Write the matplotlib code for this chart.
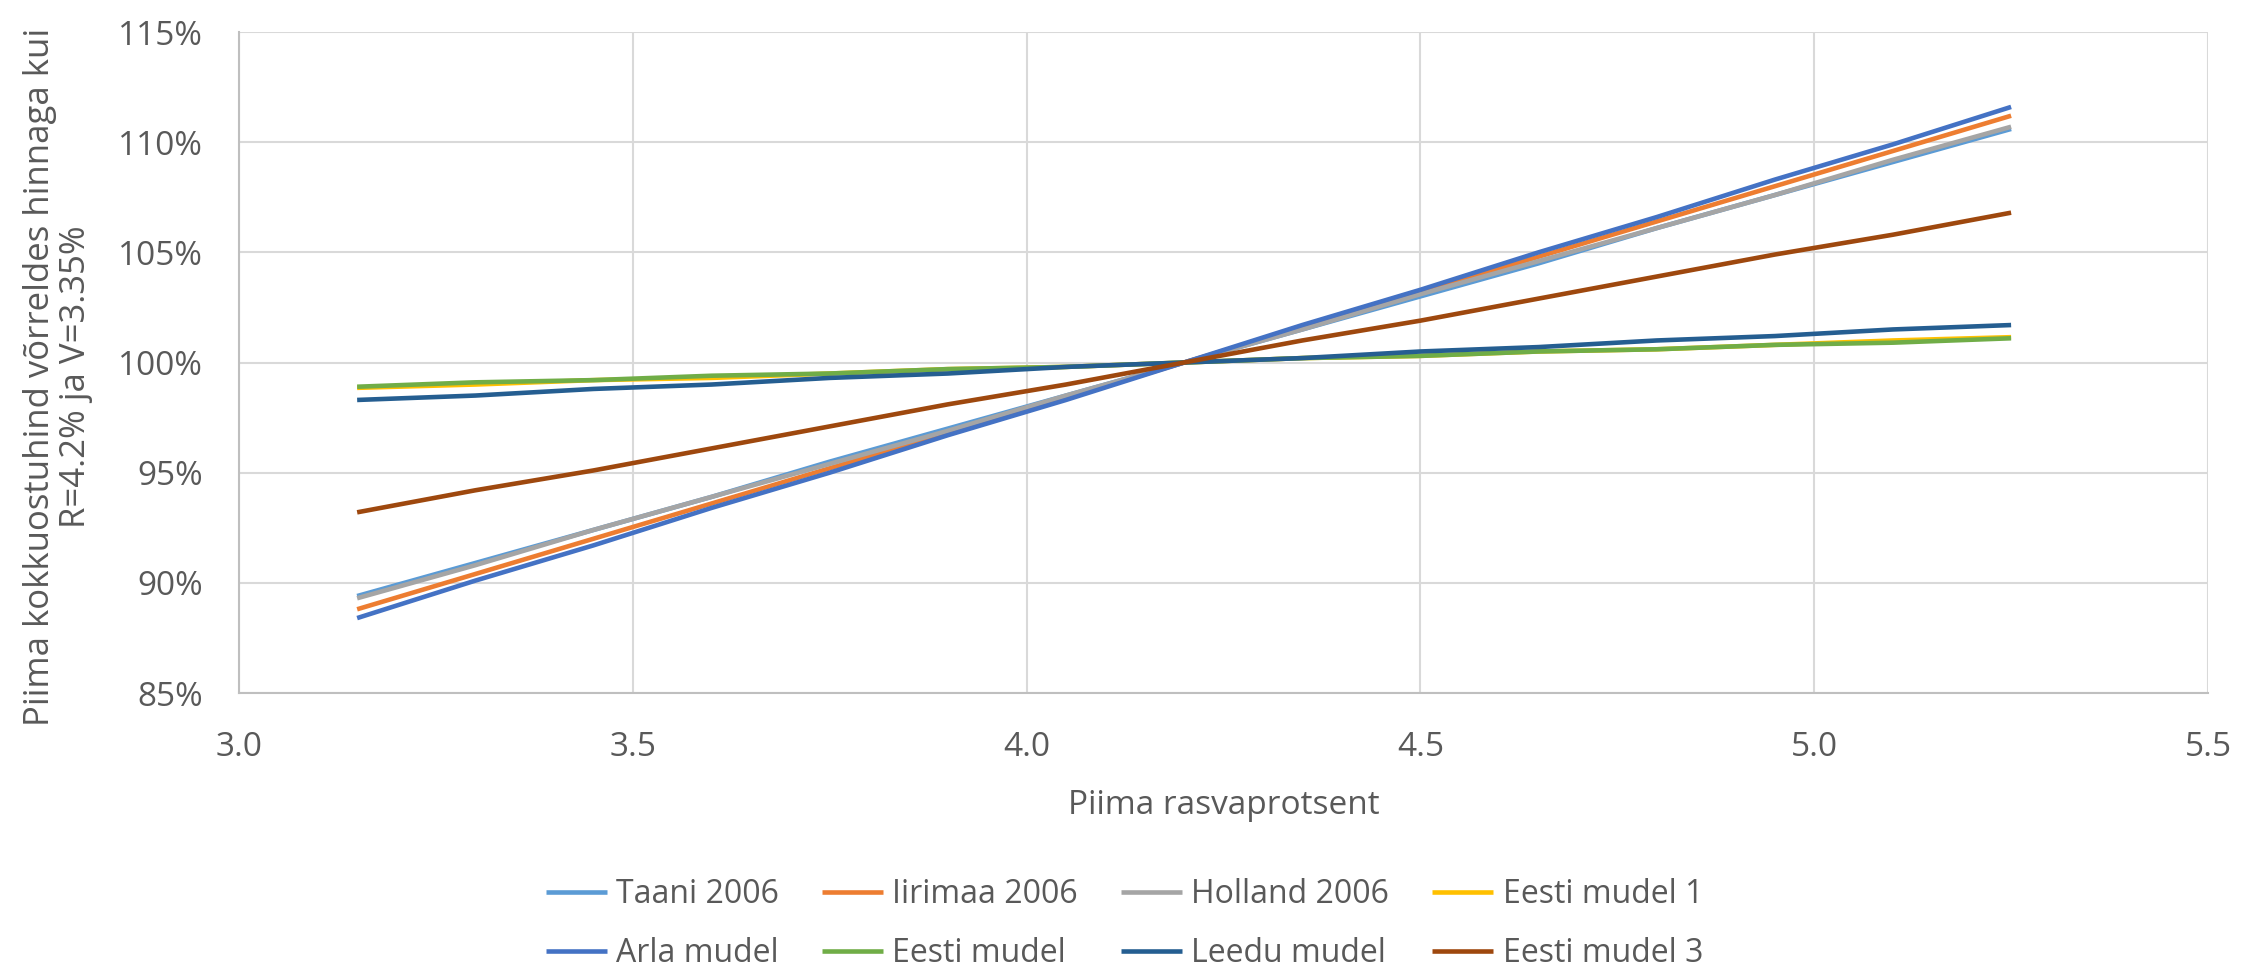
import matplotlib
matplotlib.use("Agg")
import matplotlib.pyplot as plt
from matplotlib.ticker import FuncFormatter, MultipleLocator

fat = [3.15, 3.30, 3.45, 3.60, 3.75, 3.90, 4.05, 4.20, 4.35, 4.50, 4.65, 4.80, 4.95, 5.10, 5.25]

taani_2006 = [89.4, 90.9, 92.4, 93.9, 95.5, 97.0, 98.5, 100.0, 101.5, 103.0, 104.5, 106.1, 107.6, 109.1, 110.6]
iirimaa_2006 = [88.8, 90.4, 92.0, 93.6, 95.2, 96.8, 98.4, 100.0, 101.6, 103.2, 104.8, 106.4, 108.0, 109.6, 111.2]
holland_2006 = [89.3, 90.8, 92.4, 93.9, 95.4, 96.9, 98.5, 100.0, 101.5, 103.1, 104.6, 106.1, 107.6, 109.2, 110.7]
eesti_mudel_1 = [98.85, 99.0, 99.2, 99.3, 99.5, 99.7, 99.8, 100.0, 100.2, 100.3, 100.5, 100.6, 100.8, 101.0, 101.15]
arla_mudel = [88.4, 90.1, 91.7, 93.4, 95.0, 96.7, 98.3, 100.0, 101.7, 103.3, 105.0, 106.6, 108.3, 109.9, 111.6]
eesti_mudel = [98.9, 99.1, 99.2, 99.4, 99.5, 99.7, 99.8, 100.0, 100.2, 100.3, 100.5, 100.6, 100.8, 100.9, 101.1]
leedu_mudel = [98.3, 98.5, 98.8, 99.0, 99.3, 99.5, 99.8, 100.0, 100.2, 100.5, 100.7, 101.0, 101.2, 101.5, 101.7]
eesti_mudel_3 = [93.2, 94.2, 95.1, 96.1, 97.1, 98.1, 99.0, 100.0, 101.0, 101.9, 102.9, 103.9, 104.9, 105.8, 106.8]

series_names = ["Taani 2006", "Iirimaa 2006", "Holland 2006", "Eesti mudel 1",
                "Arla mudel", "Eesti mudel", "Leedu mudel", "Eesti mudel 3"]
series_values = [taani_2006, iirimaa_2006, holland_2006, eesti_mudel_1,
                 arla_mudel, eesti_mudel, leedu_mudel, eesti_mudel_3]
colors = ["#5B9BD5", "#ED7D31", "#A5A5A5", "#FFC000",
          "#4472C4", "#70AD47", "#255E91", "#9E480E"]

x_label = "Piima rasvaprotsent"
y_label = "Piima kokkuostuhind võrreldes hinnaga kui\nR=4.2% ja V=3.35%"

plt.rcParams['font.family'] = ['Open Sans', 'DejaVu Sans']

fig = plt.figure(figsize=(22.49, 9.74), dpi=100)
ax = fig.add_axes([239/2249, 1-693/974, (2208-239)/2249, (693-32)/974])

handles = []
for name, vals, c in zip(series_names, series_values, colors):
    h, = ax.plot(fat, vals, color=c, lw=3.3, label=name, solid_capstyle='butt')
    handles.append(h)

ax.set_xlim(3.0, 5.5)
ax.set_ylim(85, 115)
ax.xaxis.set_major_locator(MultipleLocator(0.5))
ax.yaxis.set_major_locator(MultipleLocator(5))
ax.xaxis.set_major_formatter(FuncFormatter(lambda v, p: f"{v:.1f}"))
ax.yaxis.set_major_formatter(FuncFormatter(lambda v, p: f"{v:.0f}%"))
ax.grid(True, color="#D9D9D9", lw=1.5)
ax.set_axisbelow(True)
for s in ["top", "right"]:
    ax.spines[s].set_visible(False)
for s in ["left", "bottom"]:
    ax.spines[s].set_color("#BFBFBF")
    ax.spines[s].set_linewidth(1.5)
ax.tick_params(length=0, labelsize=24, labelcolor="#595959")
ax.tick_params(axis='x', pad=27)
ax.tick_params(axis='y', pad=26)

ax.set_xlabel(x_label, fontsize=24, color="#595959", labelpad=18)
fig.text(58/2249, 1-377/974, y_label, rotation=90, ha='center', va='center',
         multialignment='center', fontsize=25, color="#595959",
         family=['Liberation Sans Narrow', 'Open Sans', 'DejaVu Sans'],
         linespacing=1.1)

order = [0, 4, 1, 5, 2, 6, 3, 7]
fig.legend([handles[i] for i in order], [series_names[i] for i in order],
           loc='upper center', bbox_to_anchor=(0.5, 0.112), borderaxespad=0,
           ncol=4, frameon=False,
           fontsize=23, handlelength=1.9, columnspacing=1.35, labelspacing=0.82,
           handletextpad=0.3, labelcolor="#595959")

fig.savefig("out.png", dpi=100)
